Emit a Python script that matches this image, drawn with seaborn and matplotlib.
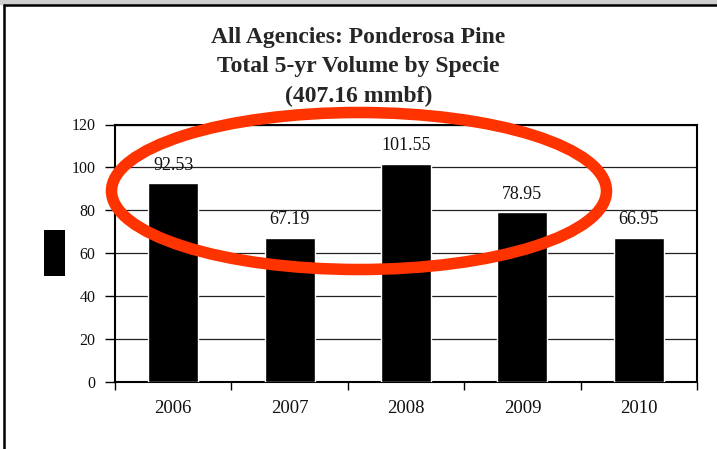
import matplotlib
matplotlib.use("Agg")
import seaborn as sns
from matplotlib import pyplot as plt
from matplotlib.patches import Ellipse, Rectangle
from matplotlib.lines import Line2D

# values
years = ["2006", "2007", "2008", "2009", "2010"]
volumes = [92.53, 67.19, 101.55, 78.95, 66.95]
title_lines = ["All Agencies: Ponderosa Pine", "Total 5-yr Volume by Specie", "(407.16 mmbf)"]
y_ticks = [0, 20, 40, 60, 80, 100, 120]

sns.set_style("white")
plt.rcParams['font.family'] = ['Liberation Serif', 'DejaVu Serif']

fig = plt.figure(figsize=(7.17, 4.49), dpi=100)
ax = fig.add_axes([115/717, 1 - 381.5/449, (697 - 115)/717, (381.5 - 124.5)/449])

sns.barplot(x=years, y=volumes, color="black", saturation=1, width=0.43, ax=ax, zorder=3)

ax.set_ylim(0, 120)
ax.set_xlim(-0.5, len(years) - 0.5)
ax.set_yticks(y_ticks)
ax.set_xlabel("")
ax.set_ylabel("")
ax.yaxis.grid(True, color="#222222", linewidth=0.9)
ax.set_axisbelow(True)

for s in ax.spines.values():
    s.set_visible(True)
    s.set_color("black")
    s.set_linewidth(1.5)

ax.tick_params(axis="y", direction="out", length=7, width=1, color="black",
               labelsize=11.5, labelcolor="#111111", pad=7, left=True)
ax.tick_params(axis="x", which="major", length=0, labelsize=13.5, labelcolor="#111111", pad=13.5)
# Excel style ticks sit between the categories
ax.set_xticks([i - 0.5 for i in range(len(years) + 1)], minor=True)
ax.tick_params(axis="x", which="minor", direction="out", length=6, width=1, color="black", bottom=True)

ax.bar_label(ax.containers[0], labels=[f"{v:.2f}" for v in volumes], padding=7,
             fontsize=13, color="#111111")

fig.text(0.5, 1 - 67/449, "\n".join(title_lines), ha="center", va="center",
         fontsize=17, fontweight="bold", linespacing=1.5)

# lone legend key on the left
fig.patches.append(Rectangle((44/717, 1 - 276/449), 21/717, 46/449, transform=fig.transFigure,
                             facecolor="black", edgecolor="none"))

# grey strip and frame edge of the screenshot
fig.patches.append(Rectangle((0, 1 - 5/449), 1, 5/449, transform=fig.transFigure,
                             facecolor="#cfcfcf", edgecolor="none"))
fig.lines.append(Line2D([4/717, 4/717], [0, 1 - 5/449], transform=fig.transFigure,
                        color="black", linewidth=1.8))
fig.lines.append(Line2D([4/717, 1], [1 - 5/449, 1 - 5/449], transform=fig.transFigure,
                        color="black", linewidth=1.8))

# red highlight ellipse drawn over the chart
fig.patches.append(Ellipse((359/717, 1 - 191/449), 495/717, 157/449, transform=fig.transFigure,
                           facecolor="none", edgecolor="#ff3300", linewidth=8.3, zorder=10))

fig.savefig("out.png", dpi=100)
